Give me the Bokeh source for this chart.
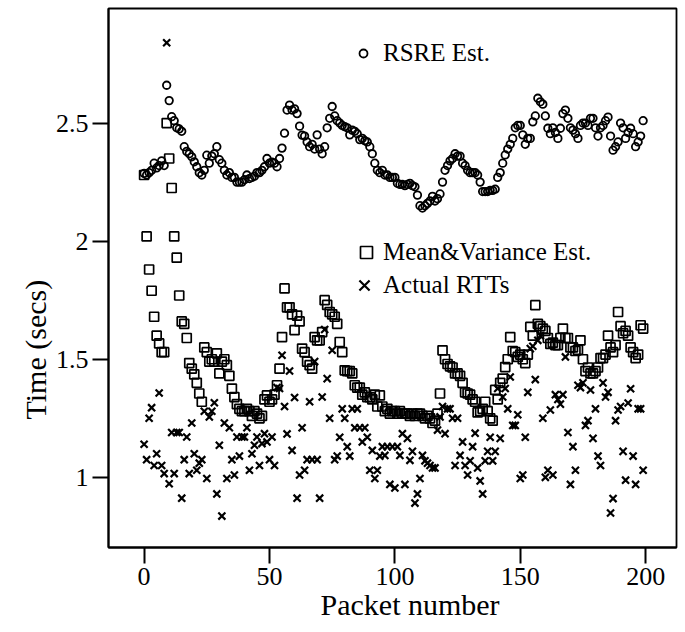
from bokeh.plotting import figure
from bokeh.models import ColumnDataSource, FixedTicker, Legend, LegendItem, Range1d, Title
from bokeh.embed import file_html
from bokeh.resources import INLINE

# ---- data ----
rsre = [2.287, 2.28, 2.29, 2.30, 2.33, 2.31, 2.32, 2.34, 2.32, 2.66,
        2.595, 2.527, 2.51, 2.48, 2.475, 2.465, 2.40, 2.38, 2.37, 2.357,
        2.336, 2.315, 2.29, 2.28, 2.30, 2.364, 2.33, 2.36, 2.37, 2.40,
        2.345, 2.33, 2.30, 2.28, 2.29, 2.27, 2.27, 2.25, 2.25, 2.25,
        2.26, 2.28, 2.265, 2.27, 2.275, 2.29, 2.29, 2.30, 2.315, 2.35,
        2.33, 2.335, 2.33, 2.315, 2.35, 2.394, 2.457, 2.555, 2.576, 2.555,
        2.56, 2.54, 2.487, 2.449, 2.445, 2.42, 2.40, 2.41, 2.39, 2.45,
        2.39, 2.37, 2.40, 2.48, 2.52, 2.57, 2.53, 2.51, 2.50, 2.49,
        2.485, 2.48, 2.45, 2.47, 2.465, 2.455, 2.43, 2.435, 2.425, 2.42,
        2.40, 2.37, 2.33, 2.30, 2.29, 2.30, 2.28, 2.28, 2.27, 2.27,
        2.27, 2.245, 2.24, 2.24, 2.235, 2.24, 2.245, 2.235, 2.23, 2.195,
        2.15, 2.14, 2.15, 2.16, 2.17, 2.19, 2.17, 2.18, 2.20, 2.25,
        2.30, 2.32, 2.34, 2.35, 2.37, 2.36, 2.36, 2.33, 2.32, 2.30,
        2.29, 2.29, 2.29, 2.28, 2.25, 2.21, 2.21, 2.21, 2.215, 2.215,
        2.22, 2.27, 2.29, 2.33, 2.365, 2.39, 2.41, 2.435, 2.48, 2.49,
        2.49, 2.45, 2.41, 2.435, 2.435, 2.505, 2.53, 2.605, 2.59, 2.58,
        2.53, 2.478, 2.455, 2.48, 2.46, 2.435, 2.478, 2.54, 2.555, 2.52,
        2.48, 2.47, 2.455, 2.435, 2.49, 2.50, 2.50, 2.49, 2.52, 2.52,
        2.48, 2.445, 2.48, 2.49, 2.51, 2.525, 2.445, 2.385, 2.40, 2.42,
        2.50, 2.48, 2.435, 2.46, 2.478, 2.455, 2.40, 2.42, 2.445, 2.51]

meanvar = [2.28, 2.02, 1.88, 1.79, 1.68, 1.60, 1.567, 1.53, 1.53, 2.50,
           2.35, 2.225, 2.02, 1.93, 1.77, 1.66, 1.65, 1.59, 1.484, 1.46,
           1.436, 1.40, 1.355, 1.32, 1.55, 1.53, 1.49, 1.50, 1.49, 1.525,
           1.44, 1.49, 1.50, 1.475, 1.43, 1.376, 1.34, 1.31, 1.29, 1.28,
           1.28, 1.29, 1.28, 1.26, 1.28, 1.27, 1.25, 1.26, 1.33, 1.347,
           1.32, 1.33, 1.35, 1.39, 1.46, 1.594, 1.80, 1.72, 1.72, 1.69,
           1.623, 1.685, 1.66, 1.545, 1.53, 1.49, 1.475, 1.46, 1.594, 1.58,
           1.58, 1.615, 1.75, 1.73, 1.70, 1.69, 1.68, 1.65, 1.573, 1.53,
           1.453, 1.45, 1.45, 1.44, 1.39, 1.38, 1.38, 1.35, 1.36, 1.34,
           1.34, 1.33, 1.35, 1.30, 1.347, 1.30, 1.28, 1.29, 1.27, 1.28,
           1.28, 1.27, 1.28, 1.27, 1.27, 1.27, 1.26, 1.27, 1.26, 1.27,
           1.27, 1.26, 1.25, 1.26, 1.25, 1.23, 1.24, 1.27, 1.355, 1.538,
           1.50, 1.48, 1.47, 1.465, 1.44, 1.44, 1.43, 1.40, 1.36, 1.355,
           1.35, 1.33, 1.32, 1.275, 1.28, 1.29, 1.32, 1.28, 1.25, 1.24,
           1.37, 1.33, 1.40, 1.418, 1.467, 1.50, 1.594, 1.535, 1.53, 1.51,
           1.52, 1.50, 1.484, 1.52, 1.637, 1.60, 1.729, 1.65, 1.64, 1.63,
           1.62, 1.59, 1.565, 1.57, 1.56, 1.56, 1.59, 1.63, 1.59, 1.59,
           1.55, 1.55, 1.535, 1.54, 1.58, 1.50, 1.45, 1.465, 1.44, 1.44,
           1.45, 1.465, 1.505, 1.505, 1.52, 1.60, 1.55, 1.53, 1.56, 1.70,
           1.64, 1.61, 1.62, 1.60, 1.55, 1.53, 1.505, 1.52, 1.644, 1.63]

actual = [1.14, 1.075, 1.25, 1.295, 1.05, 1.10, 1.357, 1.05, 1.016, 2.84,
          0.973, 1.19, 1.016, 1.19, 1.19, 0.912, 1.075, 1.171, 1.016, 1.23,
          1.10, 1.03, 1.06, 1.075, 1.28, 0.995, 1.256, 1.28, 1.316, 0.93,
          1.136, 0.836, 1.23, 0.995, 1.21, 1.075, 1.01, 1.171, 1.09, 1.171,
          1.171, 1.21, 1.03, 1.10, 1.136, 1.171, 1.05, 1.143, 1.185, 1.15,
          1.075, 1.171, 1.05, 1.38, 1.376, 1.517, 1.30, 1.184, 1.45, 1.114,
          1.338, 0.912, 1.01, 1.21, 1.03, 1.075, 1.32, 1.075, 1.49, 1.075,
          0.912, 1.34, 1.626, 1.418, 1.25, 1.538, 1.075, 1.09, 1.17, 1.29,
          1.25, 1.13, 1.09, 1.29, 1.21, 1.29, 1.21, 1.15, 1.21, 1.17,
          1.03, 1.114, 0.995, 1.03, 1.09, 1.13, 1.093, 1.13, 0.97, 1.13,
          0.955, 1.13, 1.093, 1.185, 0.97, 1.165, 1.072, 1.11, 0.891, 0.93,
          0.995, 1.093, 1.07, 1.06, 1.05, 1.04, 1.04, 1.20, 1.256, 1.30,
          1.185, 1.29, 1.29, 1.25, 1.05, 1.25, 1.093, 1.15, 1.05, 1.01,
          1.07, 1.13, 1.187, 1.04, 0.985, 0.93, 1.07, 1.11, 1.17, 1.07,
          1.11, 1.376, 1.165, 1.34, 1.376, 1.29, 1.425, 1.22, 1.22, 1.265,
          0.995, 1.01, 1.17, 1.36, 1.545, 1.555, 1.414, 1.58, 1.60, 1.25,
          1.00, 1.03, 1.285, 1.01, 1.35, 1.33, 1.31, 1.35, 1.51, 1.19,
          0.97, 1.13, 1.03, 1.39, 1.38, 1.40, 1.22, 1.24, 1.37, 1.165,
          1.29, 1.09, 1.05, 1.40, 1.34, 1.36, 0.849, 0.91, 1.24, 1.285,
          1.30, 1.11, 0.988, 1.315, 1.375, 1.09, 0.97, 1.29, 1.29, 1.03]

packets = list(range(len(rsre)))

x_ticks = [0, 50, 100, 150, 200]
x_tick_labels = ["0", "50", "100", "150", "200"]
y_ticks = [1, 1.5, 2, 2.5]
y_tick_labels = ["1", "1.5", "2", "2.5"]
x_title = "Packet number"
y_title = "Time (secs)"

FONT = "Liberation Serif"

p = figure(width=685, height=632, output_backend="svg", toolbar_location=None,
           x_range=Range1d(-14.2, 212.3), y_range=Range1d(0.703, 2.985),
           min_border_left=108, min_border_right=9, min_border_top=8,
           min_border_bottom=85)

src = ColumnDataSource(dict(x=packets, rsre=rsre, mv=meanvar, rtt=actual))

r_rsre = p.scatter("x", "rsre", source=src, marker="circle", size=7.5,
                   fill_color=None, line_color="black", line_width=1.8)
r_mv = p.scatter("x", "mv", source=src, marker="square", size=9,
                 fill_color=None, line_color="black", line_width=1.7)
r_rtt = p.scatter("x", "rtt", source=src, marker="x", size=10,
                  line_color="black", line_width=2.2)

p.xgrid.visible = False
p.ygrid.visible = False
p.outline_line_color = "black"
p.outline_line_width = 1.8
p.background_fill_color = "white"
p.border_fill_color = "white"

p.xaxis.ticker = FixedTicker(ticks=x_ticks)
p.yaxis.ticker = FixedTicker(ticks=y_ticks)
p.xaxis.major_label_overrides = dict(zip(x_ticks, x_tick_labels))
p.yaxis.major_label_overrides = dict(zip(y_ticks, y_tick_labels))

for ax in (p.xaxis[0], p.yaxis[0]):
    ax.axis_line_width = 2
    ax.axis_line_color = "black"
    ax.major_tick_in = 0
    ax.major_tick_out = 16
    ax.major_tick_line_width = 2
    ax.minor_tick_line_color = None
    ax.major_label_text_font = FONT
    ax.major_label_text_font_size = "26px"
    ax.major_label_text_color = "black"

p.xaxis.major_label_standoff = 4
p.yaxis.major_label_standoff = 4

# axis titles as side-panel titles (allow off-centre placement)
xt = Title(text=x_title, align="left", offset=212, standoff=0,
           vertical_align="top", text_font=FONT, text_font_size="30px",
           text_font_style="normal", text_color="black")
yt = Title(text=y_title, align="left", offset=128, standoff=0,
           vertical_align="middle", text_font=FONT, text_font_size="30px",
           text_font_style="normal", text_color="black")
p.add_layout(xt, "below")
p.add_layout(yt, "left")

leg1 = Legend(items=[LegendItem(label="RSRE Est.", renderers=[r_rsre])],
              location=(245, 480), glyph_width=20, glyph_height=20,
              label_standoff=10)
leg2 = Legend(items=[LegendItem(label="Mean&Variance Est.", renderers=[r_mv])],
              location=(243, 280), glyph_width=30, glyph_height=30,
              label_standoff=2)
leg3 = Legend(items=[LegendItem(label="Actual RTTs", renderers=[r_rtt])],
              location=(238, 240), glyph_width=36, glyph_height=44,
              label_standoff=1)
for lg in (leg1, leg2, leg3):
    lg.padding = 0
    lg.margin = 0
    lg.spacing = 0
    lg.border_line_color = None
    lg.background_fill_alpha = 0
    lg.label_text_font = FONT
    lg.label_text_font_size = "25px"
    lg.label_text_color = "black"
    p.add_layout(lg, "center")

open("out.html", "w").write(file_html(p, INLINE))
